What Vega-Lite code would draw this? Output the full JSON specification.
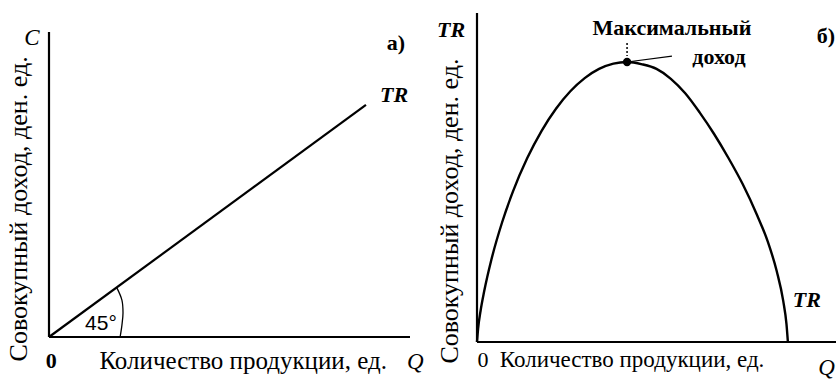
{
  "$schema": "https://vega.github.io/schema/vega-lite/v6.json",
  "width": 836,
  "height": 381,
  "autosize": {"type": "none"},
  "padding": 0,
  "background": "white",
  "config": {"view": {"stroke": null}},
  "datasets": {
    "a_lines": [
      {"part": "yaxis", "i": 0, "q": 0, "v": 0},
      {"part": "yaxis", "i": 1, "q": 0, "v": 100},
      {"part": "xaxis", "i": 0, "q": 0, "v": 0},
      {"part": "xaxis", "i": 1, "q": 100, "v": 0},
      {"part": "tr", "i": 0, "q": 0, "v": 0},
      {"part": "tr", "i": 1, "q": 87.8, "v": 76.1},
      {"part": "arc", "i": 0, "q": 18.8, "v": 16.1},
      {"part": "arc", "i": 1, "q": 20.2, "v": 12.1},
      {"part": "arc", "i": 2, "q": 20.5, "v": 7.9},
      {"part": "arc", "i": 3, "q": 20.2, "v": 3.9},
      {"part": "arc", "i": 4, "q": 19.7, "v": 0}
    ],
    "a_labels": [
      {"role": "axis-end", "label": "C", "q": -4.7, "v": 97.9},
      {"role": "axis-end", "label": "Q", "q": 101.5, "v": -8.2},
      {"role": "tag", "label": "а)", "q": 96.1, "v": 96.4},
      {"role": "curve", "label": "TR", "q": 95.6, "v": 79.3},
      {"role": "origin", "label": "0", "q": 0.6, "v": -7.9},
      {"role": "xtitle", "label": "Количество продукции, ед.", "q": 53.8, "v": -7.9},
      {"role": "ytitle", "label": "Совокупный доход, ден. ед.", "q": -8.3, "v": 42.0},
      {"role": "angle", "label": "45°", "q": 14.4, "v": 4.3}
    ],
    "b_lines": [
      {"part": "yaxis", "i": 0, "q": 0, "v": 0},
      {"part": "yaxis", "i": 1, "q": 0, "v": 100},
      {"part": "xaxis", "i": 0, "q": 0, "v": 0},
      {"part": "xaxis", "i": 1, "q": 100, "v": 0},
      {"part": "leader", "i": 0, "q": 41.8, "v": 85.1},
      {"part": "leader", "i": 1, "q": 54.3, "v": 86.9}
    ],
    "b_curve": [
      {"i": 0, "q": 0, "v": 0},
      {"i": 1, "q": 0.3, "v": 4.0},
      {"i": 2, "q": 1, "v": 9.5},
      {"i": 3, "q": 2, "v": 15.4},
      {"i": 4, "q": 4, "v": 25.0},
      {"i": 5, "q": 7, "v": 36.4},
      {"i": 6, "q": 10, "v": 45.7},
      {"i": 7, "q": 14, "v": 55.9},
      {"i": 8, "q": 18, "v": 64.2},
      {"i": 9, "q": 22, "v": 70.9},
      {"i": 10, "q": 26, "v": 76.2},
      {"i": 11, "q": 30, "v": 80.2},
      {"i": 12, "q": 34, "v": 83.0},
      {"i": 13, "q": 38, "v": 84.6},
      {"i": 14, "q": 41.8, "v": 85.1},
      {"i": 15, "q": 46, "v": 84.4},
      {"i": 16, "q": 50, "v": 83.0},
      {"i": 17, "q": 54, "v": 80.0},
      {"i": 18, "q": 58, "v": 75.6},
      {"i": 19, "q": 62, "v": 69.8},
      {"i": 20, "q": 66, "v": 63.3},
      {"i": 21, "q": 70, "v": 56.0},
      {"i": 22, "q": 74, "v": 48.0},
      {"i": 23, "q": 78, "v": 38.6},
      {"i": 24, "q": 81, "v": 30.5},
      {"i": 25, "q": 83.5, "v": 21.5},
      {"i": 26, "q": 85.3, "v": 12.5},
      {"i": 27, "q": 86.2, "v": 5.5},
      {"i": 28, "q": 86.6, "v": 0}
    ],
    "b_peak": [
      {"label": "Максимальный доход", "q": 41.8, "v": 85.1, "top": 90.9, "bottom": 86.9}
    ],
    "b_labels": [
      {"role": "axis-end", "label": "Q", "q": 97.4, "v": -7.9},
      {"role": "curve-axis", "label": "TR", "q": -7.2, "v": 94.8},
      {"role": "tag", "label": "б)", "q": 97.2, "v": 93.0},
      {"role": "curve", "label": "TR", "q": 91.9, "v": 12.8},
      {"role": "origin", "label": "0", "q": 1.7, "v": -5.5},
      {"role": "xtitle", "label": "Количество продукции, ед.", "q": 43.2, "v": -5.5},
      {"role": "ytitle", "label": "Совокупный доход, ден. ед.", "q": -7.5, "v": 39.8},
      {"role": "note", "label": "Максимальный", "q": 54.3, "v": 95.4},
      {"role": "note", "label": "доход", "q": 67.4, "v": 86.6}
    ]
  },
  "layer": [
    {
      "encoding": {
        "x": {"field": "q", "type": "quantitative", "scale": {"domain": [0, 100], "range": [49, 410]}, "axis": null},
        "y": {"field": "v", "type": "quantitative", "scale": {"domain": [0, 100], "range": [337, 32]}, "axis": null}
      },
      "layer": [
        {
          "data": {"name": "a_lines"},
          "transform": [{"filter": "datum.part !== 'arc'"}],
          "mark": {"type": "line", "color": "black", "strokeWidth": 2.2, "clip": false},
          "encoding": {"detail": {"field": "part"}, "order": {"field": "i"}}
        },
        {
          "data": {"name": "a_lines"},
          "transform": [{"filter": "datum.part === 'arc'"}],
          "mark": {"type": "line", "color": "black", "strokeWidth": 1.3, "interpolate": "cardinal", "clip": false},
          "encoding": {"order": {"field": "i"}}
        },
        {
          "data": {"name": "a_labels"},
          "transform": [{"filter": "datum.role === 'axis-end'"}],
          "mark": {"type": "text", "font": "Liberation Serif", "fontStyle": "italic", "fontSize": 23, "color": "black", "align": "center", "baseline": "middle"},
          "encoding": {"text": {"field": "label"}}
        },
        {
          "data": {"name": "a_labels"},
          "transform": [{"filter": "datum.role === 'curve'"}],
          "mark": {"type": "text", "font": "Liberation Serif", "fontStyle": "italic", "fontWeight": "bold", "fontSize": 22, "color": "black", "align": "center", "baseline": "middle"},
          "encoding": {"text": {"field": "label"}}
        },
        {
          "data": {"name": "a_labels"},
          "transform": [{"filter": "datum.role === 'tag' || datum.role === 'origin'"}],
          "mark": {"type": "text", "font": "Liberation Serif", "fontWeight": "bold", "fontSize": 22, "color": "black", "align": "center", "baseline": "middle"},
          "encoding": {"text": {"field": "label"}}
        },
        {
          "data": {"name": "a_labels"},
          "transform": [{"filter": "datum.role === 'xtitle'"}],
          "mark": {"type": "text", "font": "Liberation Serif", "fontSize": 25, "color": "black", "align": "center", "baseline": "middle"},
          "encoding": {"text": {"field": "label"}}
        },
        {
          "data": {"name": "a_labels"},
          "transform": [{"filter": "datum.role === 'ytitle'"}],
          "mark": {"type": "text", "font": "Liberation Serif", "fontSize": 26, "angle": 270, "color": "black", "align": "center", "baseline": "middle"},
          "encoding": {"text": {"field": "label"}}
        },
        {
          "data": {"name": "a_labels"},
          "transform": [{"filter": "datum.role === 'angle'"}],
          "mark": {"type": "text", "font": "Liberation Sans", "fontSize": 21, "color": "black", "align": "center", "baseline": "middle"},
          "encoding": {"text": {"field": "label"}}
        }
      ]
    },
    {
      "encoding": {
        "x": {"field": "q", "type": "quantitative", "scale": {"domain": [0, 100], "range": [477, 836]}, "axis": null},
        "y": {"field": "v", "type": "quantitative", "scale": {"domain": [0, 100], "range": [342, 13]}, "axis": null}
      },
      "layer": [
        {
          "data": {"name": "b_lines"},
          "transform": [{"filter": "datum.part !== 'leader'"}],
          "mark": {"type": "line", "color": "black", "strokeWidth": 2.2, "clip": false},
          "encoding": {"detail": {"field": "part"}, "order": {"field": "i"}}
        },
        {
          "data": {"name": "b_lines"},
          "transform": [{"filter": "datum.part === 'leader'"}],
          "mark": {"type": "line", "color": "black", "strokeWidth": 1.2, "clip": false},
          "encoding": {"order": {"field": "i"}}
        },
        {
          "data": {"name": "b_curve"},
          "mark": {"type": "line", "color": "black", "strokeWidth": 2.4, "interpolate": "monotone", "clip": false},
          "encoding": {"order": {"field": "i"}}
        },
        {
          "data": {"name": "b_peak"},
          "mark": {"type": "rule", "color": "black", "strokeWidth": 1.5, "strokeDash": [2, 2]},
          "encoding": {"y": {"field": "top", "type": "quantitative"}, "y2": {"field": "bottom"}}
        },
        {
          "data": {"name": "b_peak"},
          "mark": {"type": "point", "filled": true, "color": "black", "size": 70, "opacity": 1}
        },
        {
          "data": {"name": "b_labels"},
          "transform": [{"filter": "datum.role === 'axis-end'"}],
          "mark": {"type": "text", "font": "Liberation Serif", "fontStyle": "italic", "fontSize": 23, "color": "black", "align": "center", "baseline": "middle"},
          "encoding": {"text": {"field": "label"}}
        },
        {
          "data": {"name": "b_labels"},
          "transform": [{"filter": "datum.role === 'curve' || datum.role === 'curve-axis'"}],
          "mark": {"type": "text", "font": "Liberation Serif", "fontStyle": "italic", "fontWeight": "bold", "fontSize": 22, "color": "black", "align": "center", "baseline": "middle"},
          "encoding": {"text": {"field": "label"}}
        },
        {
          "data": {"name": "b_labels"},
          "transform": [{"filter": "datum.role === 'tag' || datum.role === 'note'"}],
          "mark": {"type": "text", "font": "Liberation Serif", "fontWeight": "bold", "fontSize": 22, "color": "black", "align": "center", "baseline": "middle"},
          "encoding": {"text": {"field": "label"}}
        },
        {
          "data": {"name": "b_labels"},
          "transform": [{"filter": "datum.role === 'origin'"}],
          "mark": {"type": "text", "font": "Liberation Serif", "fontSize": 22, "color": "black", "align": "center", "baseline": "middle"},
          "encoding": {"text": {"field": "label"}}
        },
        {
          "data": {"name": "b_labels"},
          "transform": [{"filter": "datum.role === 'xtitle'"}],
          "mark": {"type": "text", "font": "Liberation Serif", "fontSize": 23, "color": "black", "align": "center", "baseline": "middle"},
          "encoding": {"text": {"field": "label"}}
        },
        {
          "data": {"name": "b_labels"},
          "transform": [{"filter": "datum.role === 'ytitle'"}],
          "mark": {"type": "text", "font": "Liberation Serif", "fontSize": 26, "angle": 270, "color": "black", "align": "center", "baseline": "middle"},
          "encoding": {"text": {"field": "label"}}
        }
      ]
    }
  ],
  "resolve": {"scale": {"x": "independent", "y": "independent"}}
}
